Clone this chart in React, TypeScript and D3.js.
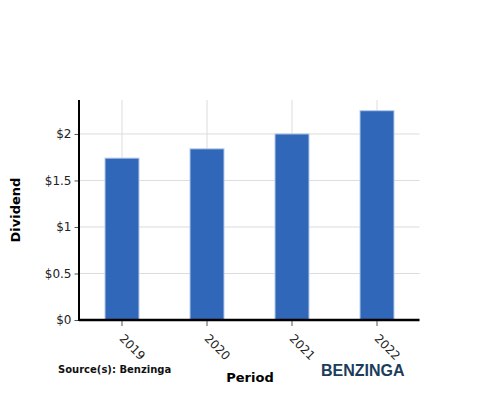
import React, { useEffect, useRef } from "react";
import * as d3 from "d3";

const periods = ["2019", "2020", "2021", "2022"];
const dividends = [1.74, 1.84, 2.0, 2.25];
const yTicks = [0, 0.5, 1, 1.5, 2];

const App = () => {
  const ref = useRef<SVGSVGElement>(null);

  useEffect(() => {
    const svg = d3.select(ref.current);
    svg.selectAll("*").remove();
    const font = "DejaVu Sans, sans-serif";
    const left = 79.5,
      right = 419.5,
      top = 100,
      bottom = 320;

    const x = d3
      .scaleBand()
      .domain(periods)
      .range([left, right])
      .paddingInner(0.6)
      .paddingOuter(0.3);
    const y = d3.scaleLinear().domain([0, 2.365]).range([bottom, top]);

    // grid
    const grid = svg.append("g");
    grid
      .selectAll("line.h")
      .data(yTicks)
      .enter()
      .append("line")
      .attr("x1", left)
      .attr("x2", right)
      .attr("y1", (d) => y(d))
      .attr("y2", (d) => y(d))
      .attr("stroke", "#dcdcdc")
      .attr("stroke-width", 1);
    grid
      .selectAll("line.v")
      .data(periods)
      .enter()
      .append("line")
      .attr("x1", (d) => x(d)! + x.bandwidth() / 2)
      .attr("x2", (d) => x(d)! + x.bandwidth() / 2)
      .attr("y1", top)
      .attr("y2", bottom)
      .attr("stroke", "#dcdcdc")
      .attr("stroke-width", 1);

    // bars
    svg
      .append("g")
      .selectAll("rect")
      .data(periods)
      .enter()
      .append("rect")
      .attr("x", (d) => x(d)!)
      .attr("width", x.bandwidth())
      .attr("y", (d, i) => y(dividends[i]))
      .attr("height", (d, i) => y(0) - y(dividends[i]))
      .attr("fill", "#3067b8")
      .attr("stroke", "#b4c9ea")
      .attr("stroke-width", 1);

    // y axis
    const yAxis = svg
      .append("g")
      .attr("transform", `translate(${left},0)`)
      .call(
        d3
          .axisLeft(y)
          .tickValues(yTicks)
          .tickSize(5)
          .tickFormat((d) => "$" + d3.format("~g")(+d))
      );
    yAxis.select(".domain").remove();
    yAxis.selectAll("text").attr("font-family", font).attr("font-size", 12).attr("fill", "#222");
    yAxis.selectAll(".tick line").attr("stroke", "#555");

    // x axis
    const xAxis = svg
      .append("g")
      .attr("transform", `translate(0,${bottom})`)
      .call(d3.axisBottom(x).tickSize(6).tickSizeOuter(0));
    xAxis.select(".domain").remove();
    xAxis.selectAll(".tick line").attr("stroke", "#555");
    xAxis
      .selectAll("text")
      .attr("font-family", font)
      .attr("font-size", 12)
      .attr("fill", "#222")
      .attr("text-anchor", "start")
      .attr("dy", "0.35em")
      .attr("transform", "translate(6,10) rotate(45)");

    // axis lines
    svg
      .append("line")
      .attr("x1", left - 0.5)
      .attr("x2", left - 0.5)
      .attr("y1", top)
      .attr("y2", bottom + 1)
      .attr("stroke", "#000")
      .attr("stroke-width", 2);
    svg
      .append("line")
      .attr("x1", left - 0.5)
      .attr("x2", right)
      .attr("y1", bottom)
      .attr("y2", bottom)
      .attr("stroke", "#000")
      .attr("stroke-width", 2.5);

    // titles
    svg
      .append("text")
      .attr("transform", `translate(20,${(top + bottom) / 2}) rotate(-90)`)
      .attr("text-anchor", "middle")
      .attr("font-family", font)
      .attr("font-weight", "bold")
      .attr("font-size", 13)
      .text("Dividend");
    svg
      .append("text")
      .attr("x", 250)
      .attr("y", 382)
      .attr("text-anchor", "middle")
      .attr("font-family", font)
      .attr("font-weight", "bold")
      .attr("font-size", 13)
      .text("Period");
    svg
      .append("text")
      .attr("x", 58)
      .attr("y", 373)
      .attr("font-family", font)
      .attr("font-weight", "bold")
      .attr("font-size", 10)
      .attr("fill", "#111")
      .text("Source(s): Benzinga");
    svg
      .append("text")
      .attr("x", 321)
      .attr("y", 376)
      .attr("font-family", "Liberation Sans, Arial, sans-serif")
      .attr("font-weight", "bold")
      .attr("font-size", 16)
      .attr("fill", "#1c3d5a")
      .text("BENZINGA");
  }, []);

  return (
    <svg
      ref={ref}
      width={500}
      height={400}
      style={{ position: "absolute", left: 0, top: 0, background: "#fff" }}
    />
  );
};

export default App;
